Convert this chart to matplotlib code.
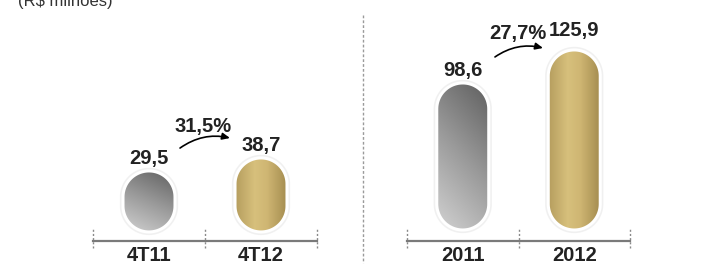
import numpy as np
import matplotlib.pyplot as plt
from matplotlib.patches import PathPatch
from matplotlib.path import Path
from matplotlib.colors import LinearSegmentedColormap
import matplotlib.transforms as mtransforms

plt.rcParams['font.family'] = ['Liberation Sans', 'DejaVu Sans']

# data
left_labels = ['4T11', '4T12']
left_values = [29.5, 38.7]
left_growth = '31,5%'
right_labels = ['2011', '2012']
right_values = [98.6, 125.9]
right_growth = '27,7%'
unit_title = '(R$ milhões)'

W, H = 727, 264
fig = plt.figure(figsize=(W / 100, H / 100), dpi=100)

gray_cmap = LinearSegmentedColormap.from_list('g', ['#d2d2d2', '#9a9a9a', '#5e5e5e'])
gold_cmap = LinearSegmentedColormap.from_list(
    'au', [(0, '#b59d5e'), (0.38, '#d7c07c'), (0.62, '#cfb673'), (1, '#a58d50')])
FS = 14.5


def fmt(v):
    return f'{v:.1f}'.replace('.', ',')


def pill_path(x, bottom, top, w, asp):
    r = w / 2
    ry = r * asp
    t1 = np.linspace(0, np.pi, 60)
    t2 = np.linspace(np.pi, 2 * np.pi, 60)
    upper = np.column_stack([x + r * np.cos(t1), top - ry + ry * np.sin(t1)])
    lower = np.column_stack([x + r * np.cos(t2), bottom + ry + ry * np.sin(t2)])
    pts = np.vstack([upper, lower, upper[:1]])
    return Path(pts, closed=True)


def draw_pill(ax, x, bottom, top, w, kind, asp):
    path = pill_path(x, bottom, top, w, asp)
    ax.add_patch(PathPatch(path, fc='none', ec='#e2e2e2', lw=4.5, alpha=0.5, zorder=2))
    pill = PathPatch(path, fc='none', ec='white', lw=2.2, zorder=4)
    ax.add_patch(pill)
    n = 100
    if kind == 'gray':
        yy, xx = np.mgrid[0:1:n * 1j, 0:1:n * 1j]
        arr = yy * 0.75 + xx * 0.3
        arr = arr / arr.max()
        cmap = gray_cmap
    else:
        arr = np.tile(np.linspace(0, 1, n), (n, 1))
        cmap = gold_cmap
    img = ax.imshow(arr, cmap=cmap, extent=[x - w / 2, x + w / 2, bottom, top],
                    origin='lower', aspect='auto', zorder=3)
    img.set_clip_path(pill)


def panel(x0px, x1px, ylim, base, labels, values, growth, lab_off, arrow, pct_pos):
    ax = fig.add_axes([x0px / W, (H - 241) / H, (x1px - x0px) / W, 241 / H])
    ax.set_xlim(-0.5, 1.5)
    ax.set_ylim(*ylim)
    ax.axis('off')
    ppx = (x1px - x0px) / 2
    ppy = 241 / (ylim[1] - ylim[0])
    asp = ppx / ppy
    w = 52 / ppx
    trans = mtransforms.blended_transform_factory(ax.transData, ax.transAxes)
    for i, (lab, v) in enumerate(zip(labels, values)):
        draw_pill(ax, i, base, v, w, 'gray' if i == 0 else 'gold', asp)
        ax.annotate(fmt(v), (i, v), xytext=(0, lab_off[i]), textcoords='offset points',
                    ha='center', va='baseline', fontsize=FS, fontweight='bold', color='#222222')
        ax.text(i, -0.06, lab, transform=trans,
                ha='center', va='center', fontsize=FS, fontweight='bold', color='#222222')
    # axis line and ticks
    ax.plot([-0.5, 1.5], [ylim[0], ylim[0]], color='#7a7a7a', lw=1.6, clip_on=False, zorder=1)
    for t in [-0.5, 0.5, 1.5]:
        ax.plot([t, t], [-0.027, 0.055], transform=trans, color='#8a8a8a', lw=1,
                ls=(0, (1.5, 1.5)), clip_on=False)
    (sx, sy), (ex, ey) = arrow
    ax.annotate('', xy=(ex, ey), xytext=(sx, sy),
                arrowprops=dict(arrowstyle='-|>,head_length=0.45,head_width=0.2', color='black',
                                lw=1.2, connectionstyle='arc3,rad=-0.22', shrinkA=0, shrinkB=0))
    ax.text(pct_pos[0], pct_pos[1], growth, ha='center', va='center', fontsize=FS,
            fontweight='bold', color='#222222')
    return ax


panel(93, 317, (-20.1, 150.5), -13.7, left_labels, left_values, left_growth,
      [5, 5], ((0.277, 45.7), (0.723, 52.8)), (0.48, 61.3))
panel(407, 630, (-32.1, 167.2), -23.0, right_labels, right_values, right_growth,
      [5, 10], ((0.289, 120.1), (0.72, 127.5)), (0.495, 139.9))

# divider
fig.add_artist(plt.Line2D([363 / W, 363 / W], [1 - 15 / H, 1 - 263 / H], color='#9a9a9a',
                          lw=1, ls=(0, (2, 1.5))))

fig.text(18 / W, 1 - 6 / H, unit_title, ha='left', va='baseline', fontsize=12, color='#333333')

fig.savefig('out.png', dpi=100)
